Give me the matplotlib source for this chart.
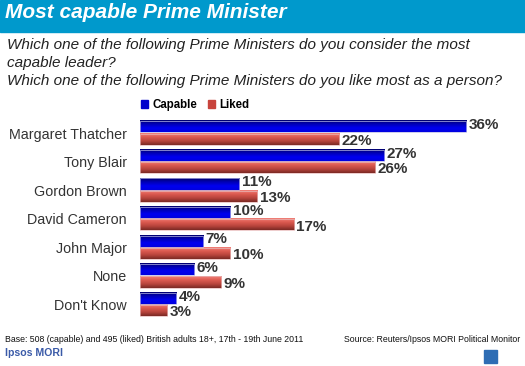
import matplotlib.pyplot as plt
import numpy as np
from matplotlib.colors import LinearSegmentedColormap
from matplotlib.patches import Rectangle

plt.rcParams['font.family'] = ['Liberation Sans', 'DejaVu Sans']

categories = ['Margaret Thatcher', 'Tony Blair', 'Gordon Brown', 'David Cameron',
              'John Major', 'None', "Don't Know"]
capable = [36, 27, 11, 10, 7, 6, 4]
liked = [22, 26, 13, 17, 10, 9, 3]

W, H = 525, 366
fig = plt.figure(figsize=(W / 100, H / 100), dpi=100)


def fx(px):
    return px / W


def fy(py):
    return 1 - py / H


# header band
fig.patches.append(Rectangle((0, fy(32)), 1, 32 / H, transform=fig.transFigure,
                             color='#0099cc', zorder=0))
fig.text(fx(5), fy(13), 'Most capable Prime Minister', color='white', fontsize=15,
         fontweight='bold', fontstyle='italic', va='center')

question = ('Which one of the following Prime Ministers do you consider the most\n'
            'capable leader?\n'
            'Which one of the following Prime Ministers do you like most as a person?')
fig.text(fx(7), fy(38.5), question, fontsize=11, fontstyle='italic', color='#222222',
         va='top', linespacing=1.36)

# axes
ax = fig.add_axes([fx(139.5), fy(318.75), fx(360), (318.75 - 118.75) / H])
y = np.arange(len(categories))
h = 0.39
cap_y = y - h / 2 - 0.02
lik_y = y + h / 2 + 0.02

blue_cm = LinearSegmentedColormap.from_list('b', ['#00006e', '#0000b8', '#0000f0', '#0000e0'])
red_cm = LinearSegmentedColormap.from_list('r', ['#f08078', '#dc5a50', '#b8443c', '#7c2a24'])
grad = np.linspace(0, 1, 32).reshape(-1, 1)

bars_c = ax.barh(cap_y, capable, height=h, color='#0000cc', alpha=0, label='Capable')
bars_l = ax.barh(lik_y, liked, height=h, color='#c8443c', alpha=0, label='Liked')
for bars, cm, ec in [(bars_c, blue_cm, '#b8b8e8'), (bars_l, red_cm, '#e8b8b8')]:
    for b in bars:
        x0, y0 = b.get_x(), b.get_y()
        w, hh = b.get_width(), b.get_height()
        ax.imshow(grad, cmap=cm, aspect='auto', extent=(x0, x0 + w, y0 + hh, y0),
                  zorder=2, interpolation='bilinear')
        ax.add_patch(Rectangle((x0, y0), w, hh, fill=False, edgecolor=ec,
                               linewidth=0.5, zorder=3))

for yy, v in zip(cap_y, capable):
    ax.text(v + 0.3, yy - 0.06, f'{v}%', va='center', ha='left', fontsize=11,
            fontweight='bold', color='#333333')
for yy, v in zip(lik_y, liked):
    ax.text(v + 0.3, yy + 0.06, f'{v}%', va='center', ha='left', fontsize=11,
            fontweight='bold', color='#333333')
ax.set_xlim(0, 360 / 9.06)
ax.set_ylim(6.5, -0.5)
ax.set_yticks(y)
ax.set_yticklabels(categories, fontsize=10.3, color='#333333')
ax.tick_params(axis='y', length=0, pad=9)
ax.set_xticks([])
for s in ax.spines.values():
    s.set_visible(False)

leg = ax.legend(loc='lower left', bbox_to_anchor=(fx(141), fy(111)),
                bbox_transform=fig.transFigure, ncol=2, frameon=False,
                prop={'size': 8.3, 'weight': 'bold'}, handlelength=0.6,
                handleheight=0.6, handletextpad=0.4, columnspacing=0.9,
                borderpad=0, borderaxespad=0)
for hnd, c in zip(leg.legend_handles, ['#0000cc', '#c8443c']):
    hnd.set_color(c)
    hnd.set_alpha(1)

# footer
fig.text(fx(5), fy(340), 'Base: 508 (capable) and 495 (liked) British adults 18+, '
         '17th - 19th June 2011', fontsize=6.3, color='#111111', va='center')
fig.text(fx(520), fy(340), 'Source: Reuters/Ipsos MORI Political Monitor',
         fontsize=6.3, color='#111111', va='center', ha='right')
fig.text(fx(5), fy(353), 'Ipsos MORI', fontsize=7.6, fontweight='bold',
         color='#3a5aa8', va='center')
fig.patches.append(Rectangle((fx(484), fy(363)), 13 / W, 13 / H,
                             transform=fig.transFigure, color='#2e6db4', zorder=1))

fig.savefig('out.png', dpi=100)
